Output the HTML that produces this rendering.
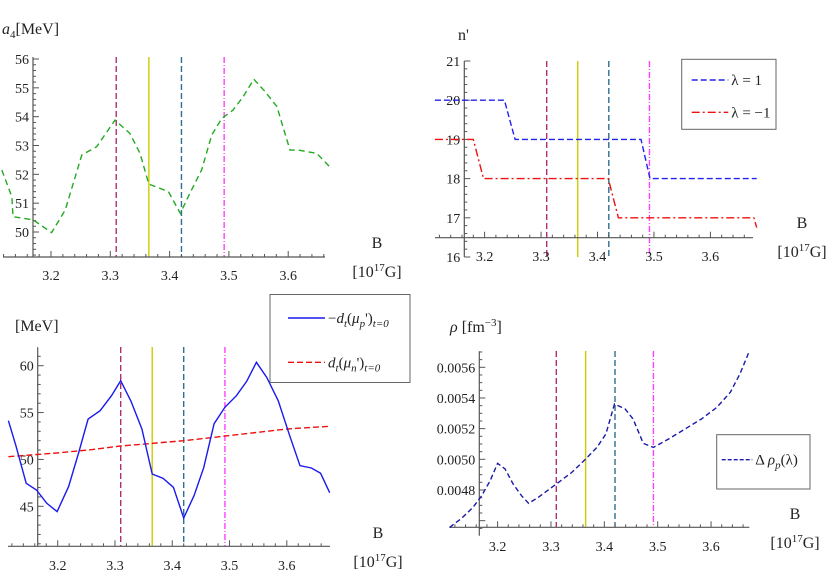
<!DOCTYPE html>
<html><head><meta charset="utf-8"><style>
html,body{margin:0;padding:0;background:#fff}
svg{display:block;font-family:"Liberation Serif",serif}
</style></head><body>
<svg id="chart" width="830" height="588" viewBox="0 0 830 588" xmlns="http://www.w3.org/2000/svg"></svg>
<script>
// ---- data ----
const markerB = [3.31, 3.365, 3.42, 3.492];
const markerColors = ["#b0306e", "#cccc00", "#2f6f8f", "#ff40ff"];
const xTickLabels = [3.2, 3.3, 3.4, 3.5, 3.6];

const a4B = [3.117,3.134,3.136,3.170,3.201,3.224,3.252,3.277,3.308,3.333,3.350,3.365,3.398,3.418,3.434,3.454,3.471,3.488,3.507,3.524,3.542,3.561,3.581,3.603,3.617,3.648,3.670];
const a4V = [52.15,51.22,50.53,50.42,49.98,50.76,52.67,52.96,53.88,53.42,52.73,51.66,51.40,50.65,51.34,52.15,53.36,53.94,54.23,54.69,55.30,54.87,54.35,52.84,52.84,52.73,52.26];
const a4YTicks = [50,51,52,53,54,55,56];

const nBlueB = [3.112,3.235,3.254,3.477,3.493,3.682];
const nBlueV = [20,20,19,19,18,18];
const nRedB = [3.112,3.180,3.198,3.419,3.437,3.677,3.682];
const nRedV = [19,19,18,18,17,17,16.75];
const nYTicks = [16,17,18,19,20,21];

const muPB = [3.114,3.127,3.145,3.163,3.181,3.199,3.219,3.236,3.253,3.274,3.294,3.310,3.328,3.347,3.365,3.384,3.402,3.420,3.438,3.455,3.473,3.492,3.512,3.530,3.547,3.565,3.585,3.605,3.623,3.643,3.659,3.675];
const muPV = [54.13,51.47,47.45,46.74,45.32,44.43,47.10,50.58,54.31,55.20,56.80,58.40,56.20,53.25,48.45,47.99,47.03,43.75,46.13,49.12,53.81,55.56,56.80,58.34,60.36,58.76,56.27,52.53,49.33,49.09,48.52,46.45];
const muNB = [3.114,3.2,3.26,3.31,3.42,3.473,3.6,3.675];
const muNV = [50.29,50.7,51.05,51.43,52.0,52.36,53.25,53.53];
const muYTicks = [45,50,55,60];

const rhoB = [3.110,3.133,3.154,3.170,3.186,3.200,3.214,3.229,3.245,3.258,3.276,3.310,3.339,3.365,3.386,3.403,3.419,3.439,3.454,3.473,3.492,3.520,3.551,3.582,3.611,3.636,3.654,3.672];
const rhoV = [0.004556,0.004617,0.004687,0.004762,0.004860,0.004974,0.004937,0.004839,0.004762,0.004713,0.004752,0.004839,0.004915,0.005002,0.005078,0.005165,0.005361,0.005328,0.005263,0.005104,0.005078,0.005132,0.005197,0.005263,0.005339,0.005437,0.005556,0.005708];
const rhoYTicks = [0.0048,0.0050,0.0052,0.0054,0.0056];
const rhoYLabels = ["0.0048","0.0050","0.0052","0.0054","0.0056"];

// ---- drawing ----
const NS = "http://www.w3.org/2000/svg";
const svg = document.getElementById("chart");
function mk(tag, attrs, parent){
  const e = document.createElementNS(NS, tag);
  for (const k in attrs) e.setAttribute(k, attrs[k]);
  (parent||svg).appendChild(e);
  return e;
}
function linScale(v0,p0,v1,p1){ return v => p0 + (v - v0) * (p1 - p0) / (v1 - v0); }

function panel(cfg){
  const g = mk("g", {});
  
  
  const X = cfg.x, Y = cfg.y;
  markerB.forEach((b,i)=>{
    const l = mk("line",{x1:X(b),x2:X(b),y1:cfg.markTop,y2:cfg.markBot,stroke:markerColors[i],"stroke-width":1.4,"stroke-dasharray": i===1?"none":(i===3?"6,2,1,2":"6,3")}, g);
    
    
  });
  const xa = mk("line",{x1:cfg.xaFrom,x2:cfg.xaTo,y1:cfg.xaY,y2:cfg.xaY,stroke:"#555","stroke-width":1.2}, g);
  
  
  for (let k=Math.ceil(X.inv(cfg.xaFrom)*50); k/50<=X.inv(cfg.xaTo); k++){
    const b=k/50, major = k%5===0, px=X(b);
    mk("line",{x1:px,x2:px,y1:cfg.xaY,y2:cfg.xaY-(major?6:3),stroke:"#555","stroke-width":1},g);
  }
  xTickLabels.forEach(b=>{
    const t = mk("text",{x:X(b),y:cfg.xaLabelY,"text-anchor":"middle","font-size":14,fill:"#222"},g);
    t.textContent = b.toFixed(1);
    
    
  });
  const ya = mk("line",{x1:cfg.yaX,x2:cfg.yaX,y1:cfg.yaTop,y2:cfg.yaBot,stroke:"#555","stroke-width":1.2}, g);
  
  
  const vTop = Y.inv(cfg.yaTop), vBot = Y.inv(cfg.yaBot);
  for (let k=Math.ceil(vBot/cfg.minor-1e-6); k*cfg.minor<=vTop+1e-9; k++){
    const v=k*cfg.minor, major=Math.abs(v/cfg.majorStep-Math.round(v/cfg.majorStep))<1e-6;
    mk("line",{x1:cfg.yaX,x2:cfg.yaX+(major?6:3),y1:Y(v),y2:Y(v),stroke:"#555","stroke-width":1},g);
  }
  cfg.yTicks.forEach((v,i)=>{
    const t = mk("text",{x:cfg.yaX-4,y:Y(v)+5,"text-anchor":"end","font-size":14,fill:"#222"},g);
    t.textContent = cfg.yLabels ? cfg.yLabels[i] : String(v);
    
    
  });
  cfg.series.forEach(s=>{
    const d = s.b.map((b,i)=>(i?"L":"M")+X(b).toFixed(1)+","+Y(s.v[i]).toFixed(1)).join("");
    const p = mk("path",{d:d,fill:"none",stroke:s.color,"stroke-width":1.4,"stroke-dasharray":s.dash||"none"},g);
    
    
  });
  const bt = mk("text",{x:cfg.bX,y:cfg.bY,"text-anchor":"middle","font-size":16,fill:"#222"},g);
  bt.textContent = "B";
  
  
  const ut = mk("text",{x:cfg.bX,y:cfg.bY+29,"text-anchor":"middle","font-size":16,fill:"#222"},g);
  ut.innerHTML = '[10<tspan dy="-6" font-size="11">17</tspan><tspan dy="6">G]</tspan>';
  
  
  const yt = mk("text",{x:cfg.ytX,y:cfg.ytY,"font-size":16,fill:"#222"},g);
  yt.innerHTML = cfg.yTitle;
  
  
  if (cfg.legend){
    const L = cfg.legend;
    const lg = mk("g",{},g);
    
    
    mk("rect",{x:L.x,y:L.y,width:L.w,height:L.h,fill:"#fff",stroke:"#666","stroke-width":1},lg);
    L.items.forEach(it=>{
      const e = mk("g",{},lg);
      
      
      mk("line",{x1:it.x1,x2:it.x2,y1:it.y,y2:it.y,stroke:it.color,"stroke-width":1.4,"stroke-dasharray":it.dash||"none"},e);
      const t = mk("text",{x:it.x2+3,y:it.y+5,"font-size":15,fill:"#222"},e);
      t.innerHTML = it.label;
    });
  }
}
function scale(v0,p0,v1,p1){ const f=linScale(v0,p0,v1,p1); f.inv=linScale(p0,v0,p1,v1); return f; }

panel({name:"panel-a4", x:scale(3.2,51,3.3,110.3), y:scale(50,232,56,59),
  markTop:57, markBot:257, xaFrom:3, xaTo:325, xaY:257, xaLabelY:280,
  yaX:33, yaTop:57, yaBot:257, minor:0.2, majorStep:1, yTicks:a4YTicks,
  series:[{b:a4B,v:a4V,color:"#22aa22",dash:"6,4",name:"a4-line"}],
  bX:377, bY:248, ytX:2, ytY:34,
  yTitle:'<tspan font-style="italic">a</tspan><tspan dy="4" font-size="11">4</tspan><tspan dy="-4">[MeV]</tspan>'});

panel({name:"panel-n-prime", x:scale(3.31,546.7,3.42,608.8), y:scale(16,257,21,61),
  markTop:61, markBot:257, xaFrom:435, xaTo:753, xaY:237.7, xaLabelY:261,
  yaX:464.3, yaTop:61, yaBot:257, minor:0.2, majorStep:1, yTicks:nYTicks,
  series:[{b:nBlueB,v:nBlueV,color:"#2222ee",dash:"6,3",name:"lambda-plus-1-line"},
          {b:nRedB,v:nRedV,color:"#ee1111",dash:"8,3,2,3",name:"lambda-minus-1-line"}],
  bX:802, bY:228, ytX:458, ytY:40, yTitle:"n'",
  legend:{x:681.7,y:59.3,w:94.3,h:70,items:[
    {x1:691.7,x2:728.3,y:80,color:"#2222ee",dash:"6,3",label:"λ = 1"},
    {x1:691.7,x2:728.3,y:112.3,color:"#ee1111",dash:"8,3,2,3",label:"λ = −1"}]}});

panel({name:"panel-mu", x:scale(3.31,120.7,3.42,183.7), y:scale(45,506.3,60,365.7),
  markTop:347, markBot:546.3, xaFrom:8, xaTo:330, xaY:546.3, xaLabelY:570,
  yaX:37.7, yaTop:347.3, yaBot:546.3, minor:1, majorStep:5, yTicks:muYTicks,
  series:[{b:muNB,v:muNV,color:"#ee1111",dash:"6,3",name:"mu-n-line"},
          {b:muPB,v:muPV,color:"#1a1aee",name:"mu-p-line"}],
  bX:378, bY:538, ytX:15, ytY:331, yTitle:"[MeV]",
  legend:{x:270,y:294.5,w:140,h:88,items:[
    {x1:288,x2:325,y:318,color:"#1a1aee",label:'−<tspan font-style="italic">d</tspan><tspan dy="4" font-size="11" font-style="italic">t</tspan><tspan dy="-4">(</tspan><tspan font-style="italic">μ</tspan><tspan dy="4" font-size="11" font-style="italic">p</tspan><tspan dy="-4">\')</tspan><tspan dy="4" font-size="11" font-style="italic">t=0</tspan>'},
    {x1:288,x2:325,y:362.3,color:"#ee1111",dash:"6,3",label:'<tspan font-style="italic">d</tspan><tspan dy="4" font-size="11" font-style="italic">t</tspan><tspan dy="-4">(</tspan><tspan font-style="italic">μ</tspan><tspan dy="4" font-size="11" font-style="italic">n</tspan><tspan dy="-4">\')</tspan><tspan dy="4" font-size="11" font-style="italic">t=0</tspan>'}]}});

panel({name:"panel-rho", x:scale(3.31,556.3,3.42,615), y:scale(0.0048,490,0.0056,367.3),
  markTop:351, markBot:527.3, xaFrom:449.3, xaTo:749.3, xaY:527.3, xaLabelY:551,
  yaX:479.3, yaTop:351.3, yaBot:535.7, minor:0.00005, majorStep:0.0002, yTicks:rhoYTicks, yLabels:rhoYLabels,
  series:[{b:rhoB,v:rhoV,color:"#1a1aaa",dash:"5,3",name:"delta-rho-line"}],
  bX:795, bY:519, ytX:450, ytY:332,
  yTitle:'<tspan font-style="italic">ρ</tspan> [fm<tspan dy="-6" font-size="11">−3</tspan><tspan dy="6">]</tspan>',
  legend:{x:716.7,y:434.7,w:93.3,h:54.3,items:[
    {x1:721.7,x2:752.3,y:459.7,color:"#1a1aaa",dash:"4,2",label:'Δ <tspan font-style="italic">ρ</tspan><tspan dy="4" font-size="11" font-style="italic">p</tspan><tspan dy="-4">(λ)</tspan>'}]}});
</script>
</body></html>
